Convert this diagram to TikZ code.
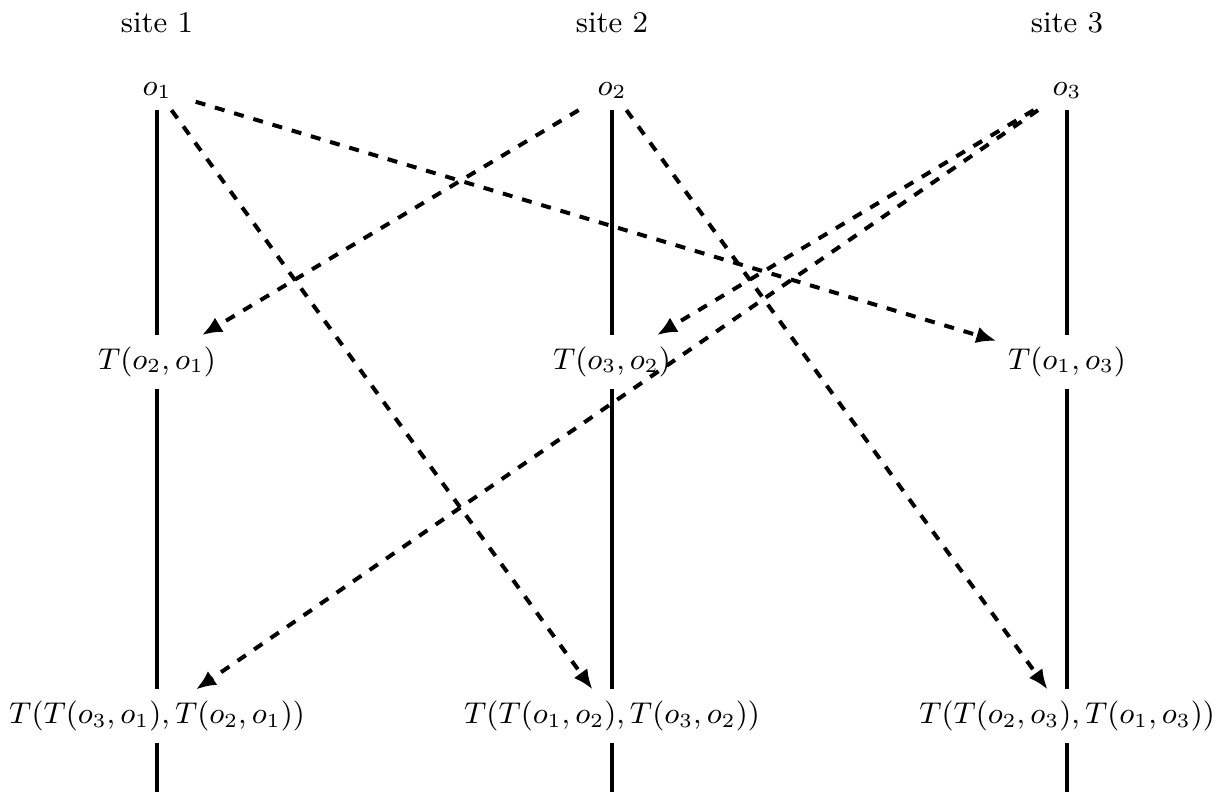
\documentclass[tikz,border=0pt]{standalone}
\usepackage{amsmath}
\usepackage{tikz}
\usetikzlibrary{arrows.meta, positioning}

\begin{document}
\begin{tikzpicture}[
    every node/.style={font=\small},
    origin/.style={minimum width=0.8cm},
    timeline/.style={very thick},
    msg/.style={very thick, dashed, -{Latex[length=6pt, width=5pt]}}]
  \useasboundingbox (0,0) rectangle (12.884,-8.337);

  \node (s1) at (1.653,-0.24) {site 1};
  \node (s2) at (6.442,-0.24) {site 2};
  \node (s3) at (11.232,-0.24) {site 3};

  \node[origin] (o1) at (1.653,-0.95) {$o_1$};
  \node[origin] (o2) at (6.442,-0.95) {$o_2$};
  \node[origin] (o3) at (11.232,-0.95) {$o_3$};

  \node (t21) at (1.653,-3.81) {$T(o_2,o_1)$};
  \node (t32) at (6.442,-3.81) {$T(o_3,o_2)$};
  \node (t13) at (11.232,-3.81) {$T(o_1,o_3)$};

  \node (b1) at (1.653,-7.54) {$T(T(o_3,o_1),T(o_2,o_1))$};
  \node (b2) at (6.442,-7.54) {$T(T(o_1,o_2),T(o_3,o_2))$};
  \node (b3) at (11.232,-7.54) {$T(T(o_2,o_3),T(o_1,o_3))$};

  \coordinate (e1) at (1.653,-8.337);
  \coordinate (e2) at (6.442,-8.337);
  \coordinate (e3) at (11.232,-8.337);

  % time lines
  \draw[timeline] (o1) -- (t21);
  \draw[timeline] (t21) -- (b1);
  \draw[timeline] (b1) -- (e1);
  \draw[timeline] (o2) -- (t32);
  \draw[timeline] (t32) -- (b2);
  \draw[timeline] (b2) -- (e2);
  \draw[timeline] (o3) -- (t13);
  \draw[timeline] (t13) -- (b3);
  \draw[timeline] (b3) -- (e3);

  % operations sent to the other sites
  \draw[msg] (o1) -- (t13);
  \draw[msg] (o1) -- (b2);
  \draw[msg] (o2) -- (t21);
  \draw[msg] (o2) -- (b3);
  \draw[msg] (o3) -- (t32);
  \draw[msg] (o3) -- (b1);
\end{tikzpicture}
\end{document}
